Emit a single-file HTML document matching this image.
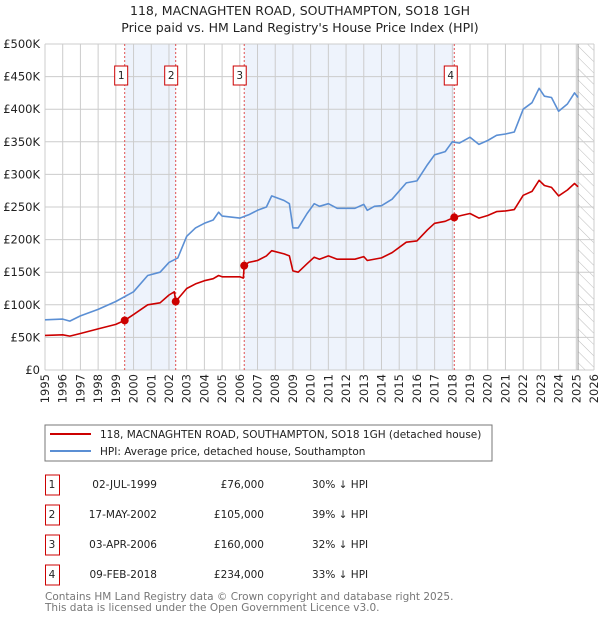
<!DOCTYPE html>
<html><head><meta charset="utf-8">
<style>
body{margin:0;background:#fff;font-family:"DejaVu Sans","Liberation Sans",sans-serif;}
text{font-family:"DejaVu Sans","Liberation Sans",sans-serif;}
</style></head>
<body>
<svg id="chart" width="600" height="620" viewBox="0 0 600 620" xmlns="http://www.w3.org/2000/svg">
<defs>
<pattern id="hatch" patternUnits="userSpaceOnUse" width="8" height="8" patternTransform="rotate(-45)">
<line x1="0" y1="0" x2="0" y2="8" stroke="#bbb" stroke-width="1"/>
</pattern>
</defs>
<text x="300" y="15" text-anchor="middle" font-size="12.5" fill="#222">118, MACNAGHTEN ROAD, SOUTHAMPTON, SO18 1GH</text>
<text x="300" y="32" text-anchor="middle" font-size="12.5" fill="#222">Price paid vs. HM Land Registry's House Price Index (HPI)</text>
<g id="plot"></g>
<g>
<rect x="45" y="425" width="447" height="36" fill="#fff" stroke="#777" stroke-width="1"/>
<line x1="50" y1="434" x2="91" y2="434" stroke="#cc0000" stroke-width="2"/>
<text x="100" y="438" font-size="10.5" fill="#222">118, MACNAGHTEN ROAD, SOUTHAMPTON, SO18 1GH (detached house)</text>
<line x1="50" y1="451" x2="91" y2="451" stroke="#5b8fd4" stroke-width="2"/>
<text x="100" y="455" font-size="10.5" fill="#222">HPI: Average price, detached house, Southampton</text>
</g>
<g id="table"></g>
<text x="45" y="600" font-size="10.5" fill="#777">Contains HM Land Registry data © Crown copyright and database right 2025.</text>
<text x="45" y="611" font-size="10.5" fill="#777">This data is licensed under the Open Government Licence v3.0.</text>
</svg>
<script>
const hpiYears=[1995,1996,1996.4,1997,1998,1999,2000,2000.8,2001.5,2002,2002.5,2003,2003.5,2004,2004.5,2004.8,2005,2006,2006.5,2007,2007.5,2007.8,2008.5,2008.8,2009,2009.3,2009.8,2010.2,2010.5,2011,2011.5,2012,2012.5,2013,2013.2,2013.6,2014,2014.6,2015.4,2016,2016.6,2017,2017.6,2018,2018.4,2019,2019.5,2020,2020.5,2021,2021.5,2022,2022.5,2022.9,2023.2,2023.6,2024,2024.5,2024.9,2025.1];
const hpiValues=[77,78,75,83,93,105,120,145,150,165,172,205,218,225,230,242,236,233,238,245,250,267,260,255,218,218,240,255,251,255,248,248,248,254,245,251,252,262,287,290,315,330,335,350,348,357,346,352,360,362,365,400,410,432,420,418,397,408,425,418];
const ppYears=[1995,1996,1996.4,1997,1998,1999,1999.5,2000,2000.8,2001.5,2002,2002.3,2002.38,2003,2003.5,2004,2004.5,2004.8,2005,2006,2006.2,2006.25,2006.5,2007,2007.5,2007.8,2008.5,2008.8,2009,2009.3,2009.8,2010.2,2010.5,2011,2011.5,2012,2012.5,2013,2013.2,2014,2014.6,2015.4,2016,2016.6,2017,2017.6,2018.1,2018.5,2019,2019.5,2020,2020.5,2021,2021.5,2022,2022.5,2022.9,2023.2,2023.6,2024,2024.5,2024.9,2025.1];
const ppValues=[53,54,52,56,63,70,76,85,100,103,115,120,105,125,132,137,140,145,143,143,141,160,165,168,175,183,178,175,152,150,163,173,170,175,170,170,170,174,168,172,180,196,198,215,225,228,234,237,240,233,237,243,244,246,268,274,291,283,280,267,276,286,281];
const saleLabels=["1","2","3","4"];
const saleYears=[1999.5,2002.38,2006.25,2018.11];
const saleValues=[76,105,160,234];
const saleDates=["02-JUL-1999","17-MAY-2002","03-APR-2006","09-FEB-2018"];
const salePrices=["£76,000","£105,000","£160,000","£234,000"];
const saleDiffs=["30% ↓ HPI","39% ↓ HPI","32% ↓ HPI","33% ↓ HPI"];
const yTicks=[0,50,100,150,200,250,300,350,400,450,500];
const yTickLabels=["£0","£50K","£100K","£150K","£200K","£250K","£300K","£350K","£400K","£450K","£500K"];

const X0=45,X1=594,Y0=370,Y1=44,XMIN=1995,XMAX=2026;
const xs=v=>X0+(v-XMIN)/(XMAX-XMIN)*(X1-X0);
const ys=v=>Y0-(v/500)*(Y0-Y1);
const NS="http://www.w3.org/2000/svg";
const plot=document.getElementById('plot');
function mk(tag,attrs,parent){const e=document.createElementNS(NS,tag);for(const k in attrs)e.setAttribute(k,attrs[k]);(parent||plot).appendChild(e);return e;}

for(const [a,b] of [[0,1],[2,3]]){
 const r=mk('rect',{x:xs(saleYears[a]),y:Y1,width:xs(saleYears[b])-xs(saleYears[a]),height:Y0-Y1,fill:'#eef3fc'});
 
 
}
const hr=mk('rect',{x:xs(2025.1),y:Y1,width:X1-xs(2025.1),height:Y0-Y1,fill:'url(#hatch)'});


for(let yr=XMIN;yr<=XMAX;yr++){
 const l=mk('line',{x1:xs(yr),x2:xs(yr),y1:Y1,y2:Y0,stroke:'#cccccc','stroke-width':1});
 
 
 const tx=xs(yr)+4, ty=374;
 const t=mk('text',{x:tx,y:ty,'font-size':11.5,'text-anchor':'end',fill:'#222',transform:`rotate(-90 ${tx} ${ty})`});
 
 
 t.textContent=yr;
}
yTicks.forEach((v,i)=>{
 const l=mk('line',{x1:X0,x2:X1,y1:ys(v),y2:ys(v),stroke:'#cccccc','stroke-width':1});
 
 
 const t=mk('text',{x:X0-5,y:ys(v)+4,'font-size':11.5,'text-anchor':'end',fill:'#222'});
 
 
 t.textContent=yTickLabels[i];
});
const vl=mk('line',{x1:xs(2025.1),x2:xs(2025.1),y1:Y1,y2:Y0,stroke:'#999','stroke-width':1});


saleYears.forEach((yr,i)=>{
 const l=mk('line',{x1:xs(yr),x2:xs(yr),y1:Y1,y2:Y0,stroke:'#e05050','stroke-width':1,'stroke-dasharray':'2,2'});
 
 
 const bx=xs(yr)-7-(i==3?2:i==0?2:3);
 const r=mk('rect',{x:bx-1,y:66,width:13,height:19,fill:'#fff',stroke:'#cc0000','stroke-width':1});
 
 
 const t=mk('text',{x:bx+5.5,y:79,'font-size':10.5,'text-anchor':'middle',fill:'#222'});
 
 
 t.textContent=saleLabels[i];
});
function path(xa,va,color,name){
 const d=xa.map((x,i)=>(i?'L':'M')+xs(x).toFixed(1)+','+ys(va[i]).toFixed(1)).join('');
 const p=mk('path',{d:d,fill:'none',stroke:color,'stroke-width':1.6,'stroke-linejoin':'round'});
 
 
}
path(hpiYears,hpiValues,'#5b8fd4','hpi-line');
path(ppYears,ppValues,'#cc0000','price-paid-line');
saleYears.forEach((yr,i)=>{
 const c=mk('circle',{cx:xs(yr),cy:ys(saleValues[i]),r:4,fill:'#cc0000'});
 
 
});
const tb=document.getElementById('table');
saleLabels.forEach((lab,i)=>{
 const y=483+i*30;
 const r=mk('rect',{x:45.5,y:y-8,width:14,height:20,fill:'#fff',stroke:'#cc0000','stroke-width':1},tb);
 
 
 const vals=[[lab,52,'middle'],[saleDates[i],157,'end'],[salePrices[i],264,'end'],[saleDiffs[i],312,'start']];
 vals.forEach(([txt,x,anc],j)=>{
  const t=mk('text',{x:x,y:y+5,'font-size':10.5,'text-anchor':anc,fill:'#222'},tb);
  
  
  t.textContent=txt;
 });
});
</script>
</body></html>
